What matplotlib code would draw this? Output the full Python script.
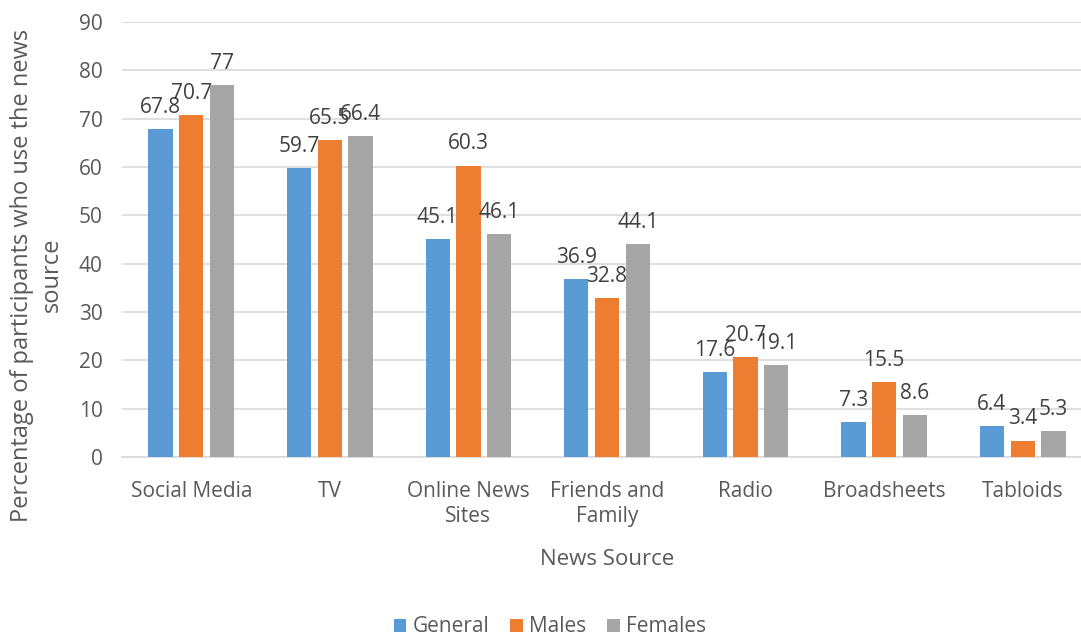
import matplotlib.pyplot as plt
import numpy as np

# data
categories = ["Social Media", "TV", "Online News\nSites", "Friends and\nFamily",
              "Radio", "Broadsheets", "Tabloids"]
general = [67.8, 59.7, 45.1, 36.9, 17.6, 7.3, 6.4]
males = [70.7, 65.5, 60.3, 32.8, 20.7, 15.5, 3.4]
females = [77, 66.4, 46.1, 44.1, 19.1, 8.6, 5.3]

series = [("General", general, "#5B9BD5"),
          ("Males", males, "#ED7D31"),
          ("Females", females, "#A5A5A5")]

plt.rcParams['font.family'] = ['Open Sans', 'DejaVu Sans']
text_col = "#595959"

fig = plt.figure(figsize=(10.81, 6.37), dpi=100)
ax = fig.add_axes([122 / 1081, 180 / 637, 970 / 1081, 435 / 637])

x = np.arange(len(categories))
width = 0.175
step = 0.222
for i, (name, vals, col) in enumerate(series):
    pos = x + (i - 1) * step
    bars = ax.bar(pos, vals, width, color=col, label=name, zorder=3)
    for b, v in zip(bars, vals):
        ax.annotate(f"{v:g}", (b.get_x() + b.get_width() / 2, v),
                    xytext=(0, 8), textcoords="offset points",
                    ha="center", va="bottom", fontsize=15, color="#404040")

ax.set_xlim(-0.5, len(categories) - 0.5)
ax.set_ylim(0, 90)
ax.set_yticks(range(0, 91, 10))
ax.set_xticks(x)
ax.set_xticklabels(categories, linespacing=1.25)
ax.tick_params(axis="both", length=0, labelsize=15, colors=text_col)
ax.tick_params(axis="x", pad=17)
ax.tick_params(axis="y", pad=14)
ax.yaxis.grid(True, color="#D9D9D9", linewidth=1.2, zorder=0)
for s in ["top", "right", "left"]:
    ax.spines[s].set_visible(False)
ax.spines["bottom"].set_color("#D9D9D9")
ax.spines["bottom"].set_linewidth(1.2)

ax.set_xlabel("News Source", fontsize=16, color=text_col, labelpad=16)
fig.text(37 / 1081, 1 - 275 / 637,
         "Percentage of participants who use the news\nsource",
         rotation=90, ha="center", va="center", fontsize=17, color=text_col,
         linespacing=1.35, multialignment="center")

fig.legend(loc="center", bbox_to_anchor=(550 / 1081, 1 - 627 / 637), ncol=3,
           frameon=False, fontsize=15, handlelength=0.6, handleheight=0.6,
           columnspacing=1.0, handletextpad=0.3, labelcolor=text_col)

fig.savefig("out.png", dpi=100)
